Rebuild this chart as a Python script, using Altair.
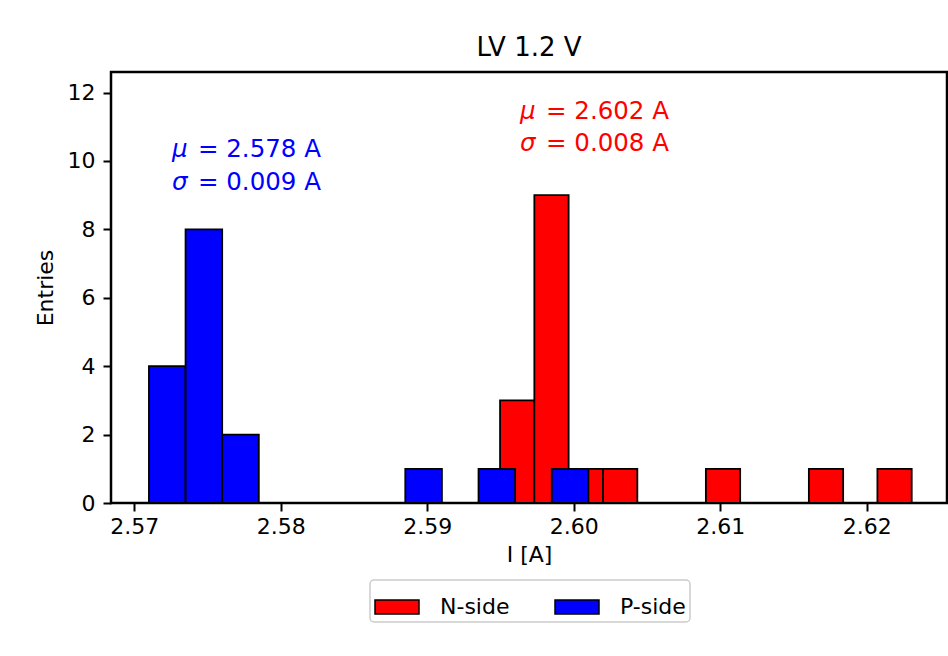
import altair as alt
import pandas as pd

# Bin edges and counts
p_edges = [2.5710, 2.5735, 2.5760, 2.5785, 2.5810, 2.5835, 2.5860,
           2.5885, 2.5910, 2.5935, 2.5960, 2.5985, 2.6010]
p_counts = [4, 8, 2, 0, 0, 0, 0, 1, 0, 1, 0, 1]

n_edges = [2.59497, 2.59731, 2.59965, 2.60200, 2.60434, 2.60668, 2.60902,
           2.61136, 2.61371, 2.61605, 2.61839, 2.62073, 2.62307]
n_counts = [3, 9, 1, 1, 0, 0, 1, 0, 0, 1, 0, 1]

x_ticks = [2.57, 2.58, 2.59, 2.60, 2.61, 2.62]
y_ticks = [0, 2, 4, 6, 8, 10, 12]

sides = ["N-side", "P-side"]
side_colors = ["#ff0000", "#0000ff"]

# annotation texts
ann_side = ["P-side", "P-side", "N-side", "N-side"]
ann_greek = ["μ", "σ", "μ", "σ"]
ann_rest = ["= 2.578 A", "= 0.009 A", "= 2.602 A", "= 0.008 A"]
ann_x = [2.57257, 2.57257, 2.59633, 2.59633]
ann_y = [10.11, 9.14, 11.22, 10.28]

rows = []
for side, edges, counts in (("N-side", n_edges, n_counts), ("P-side", p_edges, p_counts)):
    for i, c in enumerate(counts):
        if c > 0:
            rows.append({"side": side, "start": edges[i], "end": edges[i + 1],
                         "count": c, "base": 0})
hist = pd.DataFrame(rows)

ann = pd.DataFrame({"side": ann_side, "greek": ann_greek, "rest": ann_rest,
                    "x": ann_x, "y": ann_y})

FONT = "DejaVu Sans"
xscale = alt.Scale(domain=[2.56841, 2.62548], nice=False, zero=False)
yscale = alt.Scale(domain=[0, 12.6], nice=False)

bars = alt.Chart(hist).mark_rect(stroke="black", strokeWidth=1.8, opacity=1).encode(
    x=alt.X("start:Q", scale=xscale,
            axis=alt.Axis(values=x_ticks, format=".2f", title="I [A]",
                          labelPadding=5, titlePadding=7)),
    x2="end:Q",
    y=alt.Y("count:Q", scale=yscale,
            axis=alt.Axis(values=y_ticks, format="d", title="Entries",
                          labelPadding=8, titlePadding=10)),
    y2="base:Q",
    color=alt.Color("side:N",
                    scale=alt.Scale(domain=sides, range=side_colors),
                    legend=alt.Legend(
                        title=None, orient="none", legendX=259, legendY=508,
                        direction="horizontal",
                        symbolType="M-1,-0.32H1V0.32H-1Z", symbolSize=1936,
                        symbolStrokeColor="black", symbolStrokeWidth=1.5,
                        symbolOpacity=1,
                        labelFontSize=22, labelFont=FONT, labelColor="black",
                        labelOffset=20, columnPadding=42,
                        strokeColor="#cccccc", cornerRadius=4,
                        padding=4, fillColor="white")),
    order=alt.Order("side:N"),
)

layers = [bars]
for side, col in zip(sides, side_colors):
    base = alt.Chart(ann).transform_filter(alt.datum.side == side)
    g = base.mark_text(align="left", baseline="alphabetic", fontSize=24.5, font=FONT,
                       fontStyle="italic", color=col).encode(
        x=alt.X("x:Q", scale=xscale), y=alt.Y("y:Q", scale=yscale), text="greek:N")
    r = base.mark_text(align="left", baseline="alphabetic", fontSize=24.5, font=FONT,
                       dx=26, color=col).encode(
        x=alt.X("x:Q", scale=xscale), y=alt.Y("y:Q", scale=yscale), text="rest:N")
    layers += [g, r]

chart = alt.layer(*layers).properties(
    width=836, height=431,
    title=alt.TitleParams("LV 1.2 V", fontSize=26, font=FONT, fontWeight="normal",
                          color="black", offset=11),
    autosize=alt.AutoSizeParams(type="none"),
    padding={"left": 111, "top": 72, "right": 1, "bottom": 153},
    background="white",
).configure_view(
    stroke="black", strokeWidth=2.5
).configure_axis(
    domain=False, grid=False, tickColor="black", tickWidth=2, tickSize=8,
    labelFont=FONT, labelFontSize=22, labelColor="black",
    titleFont=FONT, titleFontSize=22, titleFontWeight="normal", titleColor="black",
).configure_legend(
    strokeWidth=1.5
)

chart.save("out.html", embed_options={"renderer": "svg", "actions": False})
